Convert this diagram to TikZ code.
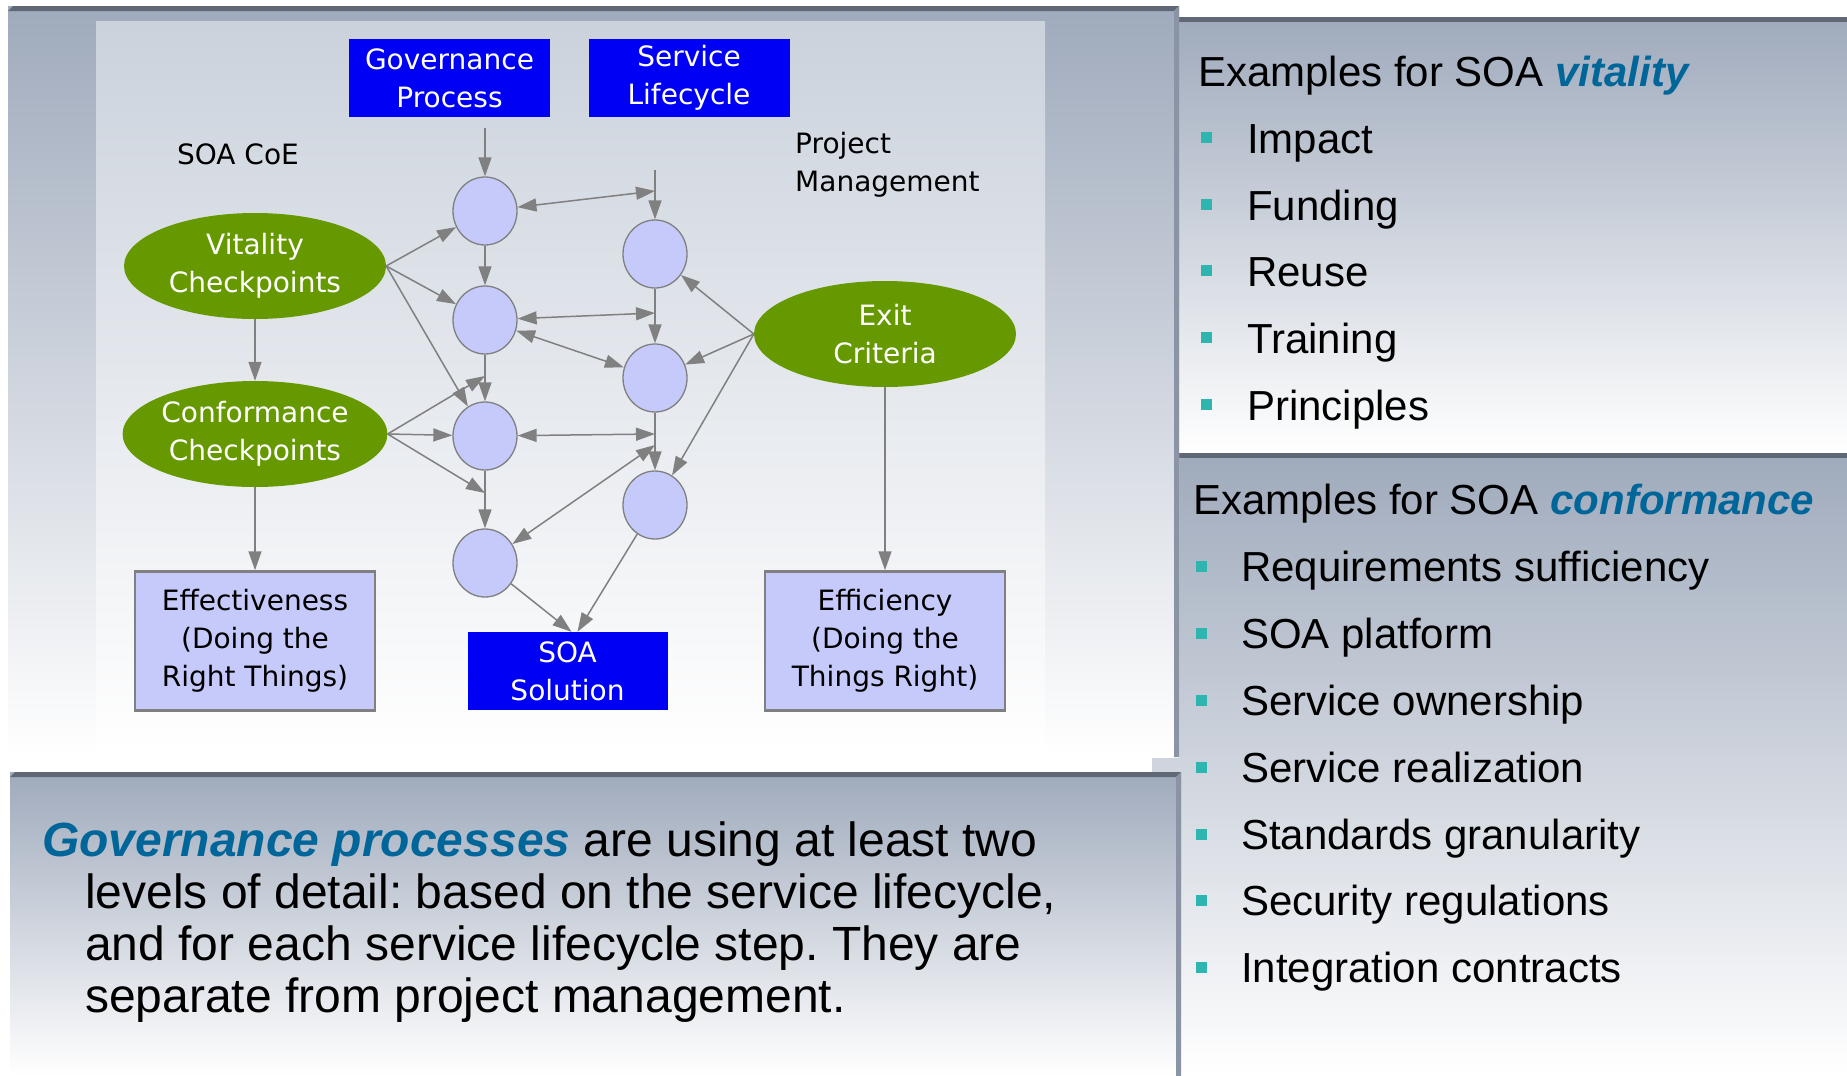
\documentclass[tikz,border=0pt]{standalone}
\usepackage{fontspec}
\setmainfont{Liberation Sans}
\newfontfamily\dvfont{DejaVu Sans}
\usetikzlibrary{arrows.meta,shapes.geometric}
\frenchspacing

\definecolor{panelTop}{HTML}{9FAABC}
\definecolor{innerTop}{HTML}{CBD2DC}
\definecolor{borderDark}{HTML}{606875}
\definecolor{borderSide}{HTML}{8A94A4}
\definecolor{boxBlue}{RGB}{0,0,245}
\definecolor{leafGreen}{HTML}{669900}
\definecolor{lav}{HTML}{C5CAFA}
\definecolor{edgeGray}{HTML}{808080}
\definecolor{accentBlue}{HTML}{006699}
\definecolor{bulletTeal}{HTML}{2EB5B0}

\begin{document}
\begin{tikzpicture}[x=1pt,y=-1pt,
  dg/.style={font=\dvfont\fontsize{28}{38}\selectfont, align=center, inner sep=0pt},
  bluebox/.style={dg, rectangle, fill=boxBlue, text=white, minimum width=201pt, minimum height=78pt},
  lavbox/.style={dg, rectangle, fill=lav, draw=edgeGray, line width=2.5pt, text=black, minimum width=240pt, minimum height=139pt},
  greenell/.style={dg, ellipse, fill=leafGreen, text=white, minimum width=262pt, minimum height=106pt},
  stepcirc/.style={ellipse, fill=lav, draw=edgeGray, line width=1.3pt, minimum width=64pt, minimum height=68pt, inner sep=0pt},
  conn/.style={draw=edgeGray, line width=1.5pt, -{Triangle[length=19pt,width=13pt]}},
  dconn/.style={draw=edgeGray, line width=1.5pt, {Triangle[length=19pt,width=13pt]}-{Triangle[length=19pt,width=13pt]}},
  rt/.style={font=\fontsize{42}{50}\selectfont, inner sep=0pt, anchor=base west, text=black},
  bt/.style={font=\fontsize{48}{52}\selectfont, inner sep=0pt, anchor=base west, text=black},
  bul/.style={rectangle, fill=bulletTeal, minimum size=11pt, inner sep=0pt}
]
\useasboundingbox (0,0) rectangle (1847,1076);
\fill[white] (0,0) rectangle (1847,1076);

% right panels
\shade[top color=panelTop, bottom color=white] (1152,17) rectangle (1847,453);
\fill[borderDark] (1179,17) rectangle (1847,22);
\shade[top color=panelTop, bottom color=white] (1152,453) rectangle (1847,1076);
\fill[borderDark] (1179,453) rectangle (1847,458);

% left top panel
\shade[top color=panelTop, bottom color=white] (8,6) rectangle (1179,757);
\fill[borderDark] (8,11) -- (13,6) -- (1179,6) -- (1174,11) -- cycle;
\fill[borderSide] (1174,11) -- (1179,6) -- (1179,757) -- (1174,757) -- cycle;

% bottom left panel
\shade[top color=panelTop, bottom color=white] (10,772) rectangle (1181,1076);
\fill[borderDark] (10,777) -- (15,772) -- (1181,772) -- (1176,777) -- cycle;
\fill[borderSide] (1176,777) -- (1181,772) -- (1181,1076) -- (1176,1076) -- cycle;

% inner diagram area
\shade[top color=innerTop, bottom color=white] (96,21) rectangle (1045,750);

% diagram nodes
\node[bluebox] (gov) at (449.5,78) {Governance\\Process};
\node[bluebox] (slc) at (689,78) {Service\\Lifecycle};
\node[bluebox, minimum width=200pt] (soa) at (567.5,671) {SOA\\Solution};
\node[lavbox] (effect) at (255,641) {Effectiveness\\(Doing the\\Right Things)};
\node[lavbox] (effic) at (885,641) {Efficiency\\(Doing the\\Things Right)};
\node[greenell] (vit) at (255,266) {Vitality\\Checkpoints};
\node[greenell] (conf) at (255,434) {Conformance\\Checkpoints};
\node[greenell] (exit) at (885,334) {Exit\\Criteria};
\node[dg] (coe) at (238,154) {SOA CoE};
\node[dg, align=left, anchor=west] (pm) at (795,164.5) {Project\\Management};

\node[stepcirc] (c11) at (485,211) {};
\node[stepcirc] (c12) at (485,320) {};
\node[stepcirc] (c13) at (485,436) {};
\node[stepcirc] (c14) at (485,563) {};
\node[stepcirc] (c21) at (655,254) {};
\node[stepcirc] (c22) at (655,378) {};
\node[stepcirc] (c23) at (655,505) {};

\coordinate (gtop) at (485,128);
\coordinate (stop) at (655,170);
\coordinate (s1) at (655,191);
\coordinate (s2) at (655,313);
\coordinate (s3) at (655,434);
\coordinate (s4) at (655,445);
\coordinate (g1) at (485,376);
\coordinate (g2) at (485,493);

% connectors
\draw[conn] (gtop) -- (c11);
\draw[conn] (c11) -- (c12);
\draw[conn] (c12) -- (c13);
\draw[conn] (c13) -- (c14);
\draw[conn] (stop) -- (c21);
\draw[conn] (c21) -- (c22);
\draw[conn] (c22) -- (c23);
\draw[dconn] (c11) -- (s1);
\draw[dconn] (c12) -- (s2);
\draw[dconn] (c12) -- (c22);
\draw[dconn] (c13) -- (s3);
\draw[dconn] (c14) -- (s4);
\draw[conn] (c14) -- ([xshift=4pt]soa.north);
\draw[conn] (c23) -- ([xshift=10pt]soa.north);
\draw[conn] (vit.east) -- (c11);
\draw[conn] (vit.east) -- (c12);
\draw[conn] (vit.east) -- (c13);
\draw[conn] (conf.east) -- (g1);
\draw[conn] (conf.east) -- (c13);
\draw[conn] (conf.east) -- (g2);
\draw[conn] (exit.west) -- (c21);
\draw[conn] (exit.west) -- (c22);
\draw[conn] (exit.west) -- (c23);
\draw[conn] (vit) -- (conf);
\draw[conn] (conf) -- (effect);
\draw[conn] (exit) -- (effic);

% right top list
\node[rt] (vh) at (1198,86) {Examples for SOA \textcolor{accentBlue}{\textbf{\textit{vitality}}}};
\node[rt] (v1) at (1247,153) {Impact};
\node[rt] (v2) at (1247,220) {Funding};
\node[rt] (v3) at (1247,286) {Reuse};
\node[rt] (v4) at (1247,353) {Training};
\node[rt] (v5) at (1247,420) {Principles};
\node[bul] (vb1) at (1206,137) {};
\node[bul] (vb2) at (1206,204) {};
\node[bul] (vb3) at (1206,270) {};
\node[bul] (vb4) at (1206,337) {};
\node[bul] (vb5) at (1206,404) {};

% right bottom list
\node[rt] (ch) at (1193,514) {Examples for SOA \textcolor{accentBlue}{\textbf{\textit{conformance}}}};
\node[rt] (k1) at (1241,581) {Requirements sufficiency};
\node[rt] (k2) at (1241,648) {SOA platform};
\node[rt] (k3) at (1241,715) {Service ownership};
\node[rt] (k4) at (1241,782) {Service realization};
\node[rt] (k5) at (1241,849) {Standards granularity};
\node[rt] (k6) at (1241,915) {Security regulations};
\node[rt] (k7) at (1241,982) {Integration contracts};
\node[bul] (kb1) at (1201,566) {};
\node[bul] (kb2) at (1201,633) {};
\node[bul] (kb3) at (1201,700) {};
\node[bul] (kb4) at (1201,767) {};
\node[bul] (kb5) at (1201,834) {};
\node[bul] (kb6) at (1201,900) {};
\node[bul] (kb7) at (1201,967) {};

% bottom left text
\node[bt] (t1) at (42,856) {\textcolor{accentBlue}{\textbf{\textit{Governance processes}}} are using at least two};
\node[bt] (t2) at (85,908) {levels of detail: based on the service lifecycle,};
\node[bt] (t3) at (85,960) {and for each service lifecycle step. They are};
\node[bt] (t4) at (85,1012) {separate from project management.};
\end{tikzpicture}
\end{document}
